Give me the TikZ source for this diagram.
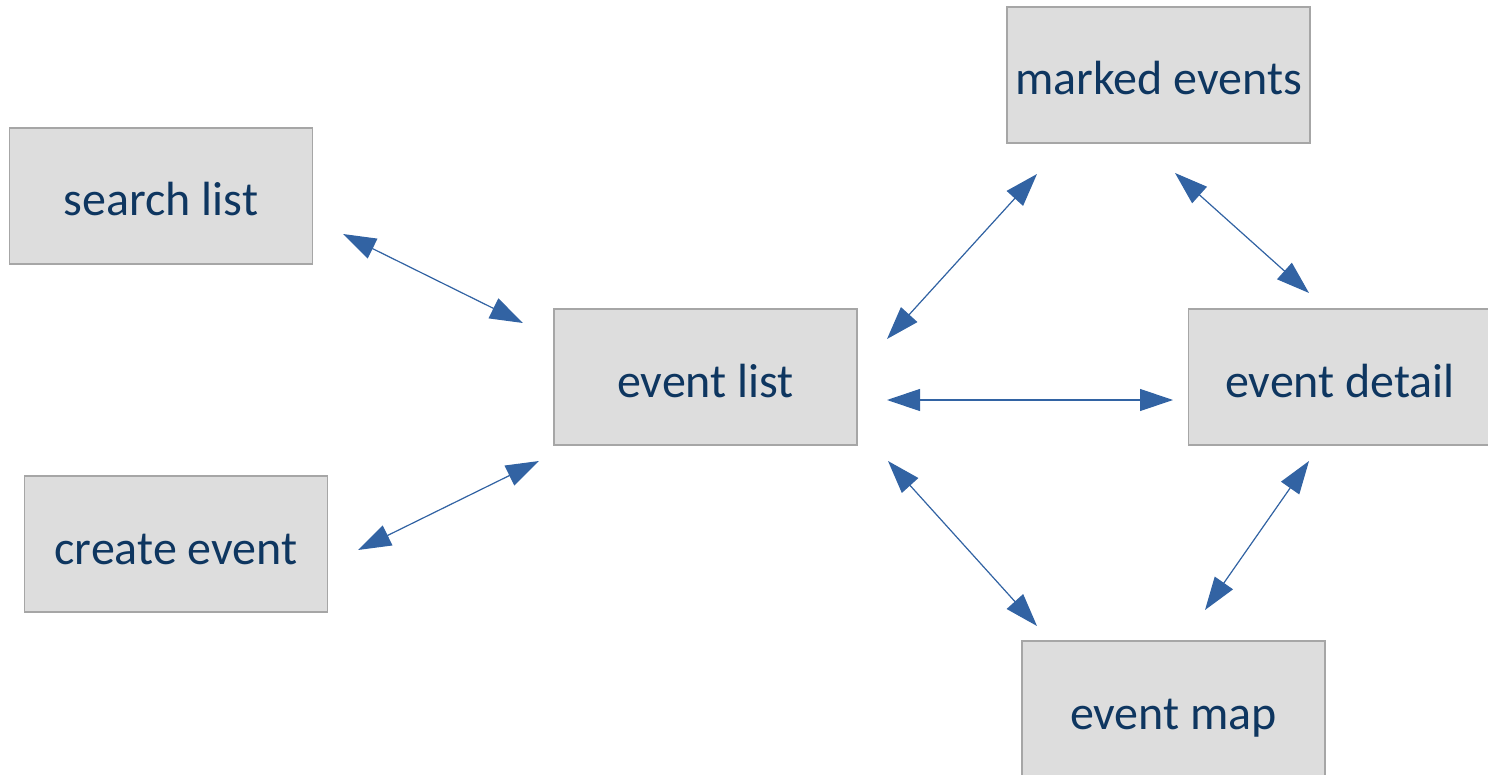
\documentclass[tikz,border=0pt]{standalone}
\usepackage{fontspec}
\setmainfont{Carlito}
\usepackage{tikz}
\usetikzlibrary{positioning}
\usetikzlibrary{arrows.meta}
\definecolor{boxfill}{RGB}{221,221,221}
\definecolor{boxline}{RGB}{166,166,166}
\definecolor{boxtext}{RGB}{14,54,96}
\definecolor{linkblue}{RGB}{50,99,163}

\begin{document}
\begin{tikzpicture}[x=0.5pt, y=-0.5pt, >={Triangle[length=16.5pt,width=11pt]},
screen/.style={rectangle, draw=boxline, fill=boxfill, line width=0.6pt, minimum width=151.5pt, minimum height=68pt, inner sep=0pt, text height=20pt, text depth=0pt, text=boxtext, font=\fontsize{24}{28}\selectfont},
link/.style={<->, draw=linkblue, fill=linkblue, line width=0.6pt}]

\useasboundingbox (0,0) rectangle (1488,775);

%% screens
\node [screen] (marked) at (1158.5,75) {marked events};
\node [screen] (search) at (161,196) {search list};
\node [screen] (list) at (705.5,377) {event list};
\node [screen] (detail) at (1340,377) {event detail};
\node [screen] (create) at (176,544) {create event};
\node [screen] (map) at (1173.5,709) {event map};

%% arrow ends
\coordinate[]  (search-a) at (343,234) {};
\coordinate[]  (list-sa) at (523,323) {};
\coordinate[]  (create-a) at (358,550) {};
\coordinate[]  (list-ca) at (539,461) {};
\coordinate[]  (list-ma) at (887,339) {};
\coordinate[]  (marked-la) at (1037,174) {};
\coordinate[]  (marked-da) at (1175,173) {};
\coordinate[]  (detail-ma) at (1309,293) {};
\coordinate[]  (list-da) at (887,400) {};
\coordinate[]  (detail-la) at (1173,400) {};
\coordinate[]  (list-pa) at (888,461) {};
\coordinate[]  (map-la) at (1037,626) {};
\coordinate[]  (detail-pa) at (1309,461) {};
\coordinate[]  (map-da) at (1205,610) {};

\draw [link] (search-a) -- (list-sa);
\draw [link] (create-a) -- (list-ca);
\draw [link] (list-ma) -- (marked-la);
\draw [link] (marked-da) -- (detail-ma);
\draw [link] (list-da) -- (detail-la);
\draw [link] (list-pa) -- (map-la);
\draw [link] (detail-pa) -- (map-da);

\end{tikzpicture}
\end{document}
